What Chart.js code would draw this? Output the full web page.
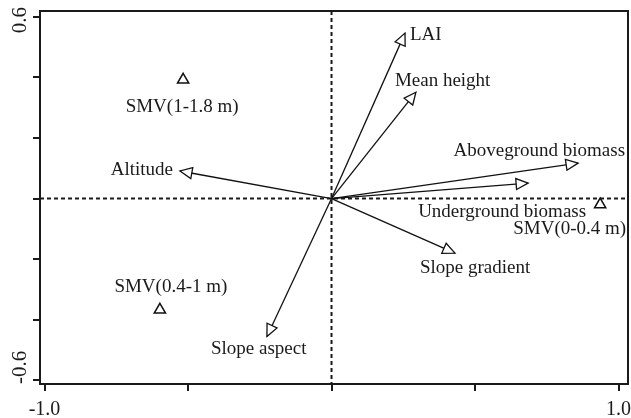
<!DOCTYPE html>
<html>
<head>
<meta charset="utf-8">
<script src="https://cdn.jsdelivr.net/npm/chart.js@4.4.1/dist/chart.umd.min.js"></script>
<style>
    html, body { margin: 0; padding: 0; background: #fff; }
    #wrap { width: 631px; height: 418px; }
</style>
</head>
<body>
<div id="wrap"><canvas id="rda"></canvas></div>
<script>

// environmental / plant variables (arrows from origin)
const varNames = ['LAI', 'Mean height', 'Aboveground biomass', 'Underground biomass', 'Altitude', 'Slope aspect', 'Slope gradient'];
const varX = [0.256, 0.294, 0.859, 0.685, -0.528, -0.225, 0.430];
const varY = [0.546, 0.351, 0.117, 0.051, 0.091, -0.455, -0.180];

// sample groups (triangles)
const siteNames = ['SMV(1-1.8 m)', 'SMV(0.4-1 m)', 'SMV(0-0.4 m)'];
const siteX = [-0.517, -0.598, 0.936];
const siteY = [0.392, -0.367, -0.020];

// ticks
const xTicks = [-1.0, -0.5, 0, 0.5, 1.0];
const yTicks = [-0.6, -0.4, -0.2, 0, 0.2, 0.4, 0.6];
const xLabelVals = [-1.0, 1.0];
const xLabelText = ['-1.0', '1.0'];
const yLabelVals = [-0.6, 0.6];
const yLabelText = ['-0.6', '0.6'];

// label placement (pixel offset from the mark, text align)
const varLabelPos = [
    [5, 2, 'left'], [-21, -11, 'left'], [47, -12, 'right'], [58, 29, 'right'],
    [-7, -1, 'right'], [-56, 13, 'left'], [-35, 15, 'left']
];
const siteLabelPos = [[-1, 27, 'center'], [11, -23, 'center'], [26, 24, 'right']];

const ink = '#1a1a1a';
const labelFont = '19px "Liberation Serif", "Times New Roman", serif';
const tickFont = '20px "Liberation Serif", "Times New Roman", serif';

var datasets = varNames.map(function (n, i) {
    return {
        label: n,
        data: [{ x: 0, y: 0 }, { x: varX[i], y: varY[i] }],
        showLine: true,
        borderColor: '#111',
        borderWidth: 1.3,
        pointRadius: 0,
        pointHoverRadius: 0
    };
});
datasets.push({
    label: 'sites',
    data: siteX.map(function (x, i) { return { x: x, y: siteY[i] }; }),
    pointStyle: 'triangle',
    pointRadius: 6.5,
    pointBorderWidth: 1.5,
    pointBorderColor: '#111',
    pointBackgroundColor: '#fff',
    showLine: false
});

const rdaPlugin = {
    id: 'rda',
    beforeDatasetsDraw(chart) {
        const c = chart.ctx, a = chart.chartArea;
        const sx = chart.scales.x, sy = chart.scales.y;
        c.save();
        // top + right frame
        c.strokeStyle = ink;
        c.lineWidth = 2;
        c.beginPath();
        c.moveTo(a.left, a.top);
        c.lineTo(a.right, a.top);
        c.lineTo(a.right, a.bottom);
        c.stroke();
        // dashed zero lines
        c.setLineDash([4, 3]);
        c.lineWidth = 2;
        c.beginPath();
        c.moveTo(a.left, sy.getPixelForValue(0));
        c.lineTo(a.right, sy.getPixelForValue(0));
        c.moveTo(sx.getPixelForValue(0), a.top);
        c.lineTo(sx.getPixelForValue(0), a.bottom);
        c.stroke();
        c.restore();
    },
    afterDatasetsDraw(chart) {
        const c = chart.ctx, a = chart.chartArea;
        const sx = chart.scales.x, sy = chart.scales.y;
        const ox = sx.getPixelForValue(0), oy = sy.getPixelForValue(0);
        c.save();
        // arrow heads
        c.lineWidth = 1.3;
        c.strokeStyle = '#111';
        c.fillStyle = '#fff';
        varNames.forEach(function (n, i) {
            const px = sx.getPixelForValue(varX[i]), py = sy.getPixelForValue(varY[i]);
            const ang = Math.atan2(py - oy, px - ox);
            const L = 12, W = 5.5;
            const bx = px - L * Math.cos(ang), by = py - L * Math.sin(ang);
            c.beginPath();
            c.moveTo(px, py);
            c.lineTo(bx + W * Math.sin(ang), by - W * Math.cos(ang));
            c.lineTo(bx - W * Math.sin(ang), by + W * Math.cos(ang));
            c.closePath();
            c.fill();
            c.stroke();
        });
        // text labels
        c.fillStyle = ink;
        c.font = labelFont;
        c.textBaseline = 'middle';
        varNames.forEach(function (n, i) {
            const p = varLabelPos[i];
            c.textAlign = p[2];
            c.fillText(n, sx.getPixelForValue(varX[i]) + p[0], sy.getPixelForValue(varY[i]) + p[1]);
        });
        siteNames.forEach(function (n, i) {
            const p = siteLabelPos[i];
            c.textAlign = p[2];
            c.fillText(n, sx.getPixelForValue(siteX[i]) + p[0], sy.getPixelForValue(siteY[i]) + p[1]);
        });
        // tick labels
        c.font = tickFont;
        c.textBaseline = 'alphabetic';
        c.textAlign = 'center';
        xLabelVals.forEach(function (v, i) {
            c.fillText(xLabelText[i], sx.getPixelForValue(v), a.bottom + 31);
        });
        c.font = '21px "Liberation Serif", "Times New Roman", serif';
        yLabelVals.forEach(function (v, i) {
            const hw = c.measureText(yLabelText[i]).width / 2;
            let cy = sy.getPixelForValue(v);
            cy = Math.max(cy, a.top - 4 + hw);
            cy = Math.min(cy, a.bottom - hw);
            c.save();
            c.translate(26, cy);
            c.rotate(-Math.PI / 2);
            c.fillText(yLabelText[i], 0, 0);
            c.restore();
        });
        c.restore();
    }
};

function axisOpts(ticks, min, max) {
    return {
        type: 'linear',
        min: min,
        max: max,
        afterBuildTicks: function (s) {
            s.ticks = ticks.map(function (v) { return { value: v }; });
        },
        ticks: { display: false },
        grid: {
            drawOnChartArea: false,
            drawTicks: true,
            tickLength: 7,
            color: ink,
            lineWidth: 2
        },
        border: { display: true, color: ink, width: 2 }
    };
}

var xAxis = axisOpts(xTicks, -1.0157, 1.033);
xAxis.afterFit = function (s) { s.height = 34; };
var yAxis = axisOpts(yTicks, -0.612, 0.619);
yAxis.afterFit = function (s) { s.width = 40; };

new Chart(document.getElementById('rda'), {
    type: 'scatter',
    data: { datasets: datasets },
    options: {
        responsive: true,
        maintainAspectRatio: false,
        animation: false,
        layout: { autoPadding: false, padding: { top: 11, right: 3, left: 0, bottom: 0 } },
        plugins: {
            legend: { display: false },
            tooltip: { enabled: false }
        },
        scales: { x: xAxis, y: yAxis }
    },
    plugins: [rdaPlugin]
});
</script>
</body>
</html>
